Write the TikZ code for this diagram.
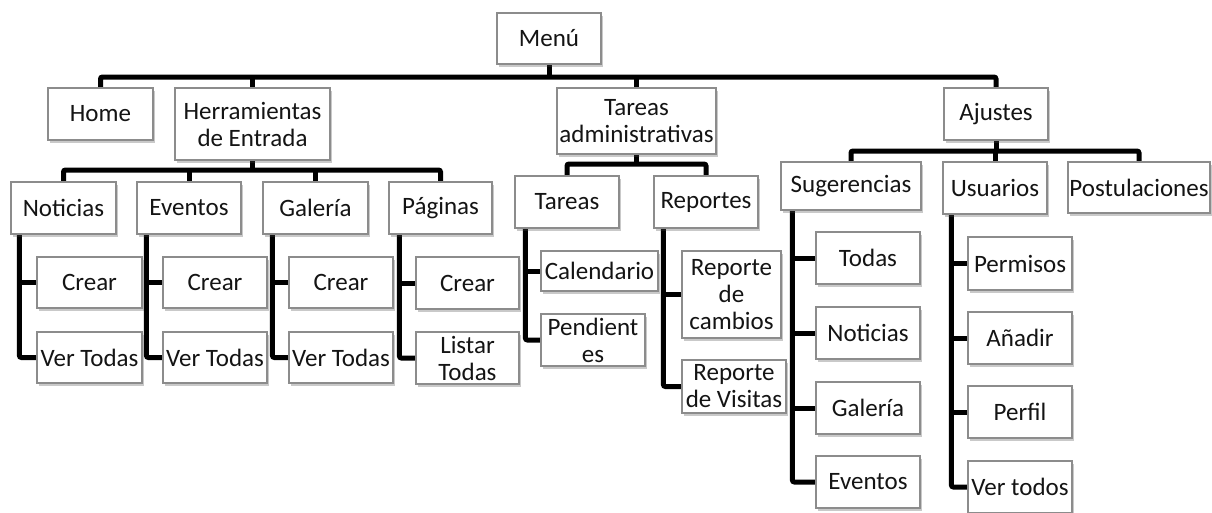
\documentclass[tikz,border=0pt]{standalone}
\usepackage{fontspec}
\setmainfont{Carlito}
\usetikzlibrary{shadows,calc,backgrounds}
\tikzset{
  box/.style={draw=black!45, line width=1.2pt, fill=white, rectangle, inner sep=0pt,
    align=center, text=black!92, font=\fontsize{25}{27}\selectfont,
    drop shadow={shadow xshift=1.5pt, shadow yshift=-2.5pt, opacity=0.3, fill=black!70}},
  conn/.style={line width=5pt, black, rounded corners=2pt, line cap=butt},
}
\newcommand{\bx}[6]{\node[box, minimum width=#4pt, minimum height=#5pt] (#1) at (#2,-#3) {#6};}
\begin{document}
\begin{tikzpicture}[x=1pt,y=1pt]
\useasboundingbox (0,0) rectangle (1212,-512);
\coordinate (b0) at (0,-77);
\coordinate (b1) at (0,-170);
\coordinate (b2) at (0,-164);
\coordinate (b3) at (0,-151);
% nodes
\bx{menu}{549}{38.5}{104}{51}{Menú}
\bx{home}{100.5}{114}{105}{52}{Home}
\bx{herr}{252.5}{124}{155}{72}{Herramientas\\de Entrada}
\bx{tadm}{636.5}{121}{159}{66}{Tareas\\administrativas}
\bx{ajus}{996}{114}{104}{52}{Ajustes}
\bx{noti}{63.5}{208}{105}{52}{Noticias}
\bx{even}{189}{208}{104}{52}{Eventos}
\bx{gale}{315.5}{208}{105}{52}{Galería}
\bx{pagi}{440.5}{208}{103}{52}{Páginas}
\bx{ncr}{89.5}{282.5}{105}{51}{Crear}
\bx{nvt}{89.5}{357.5}{105}{51}{Ver Todas}
\bx{ecr}{215}{282.5}{104}{51}{Crear}
\bx{evt}{215}{357.5}{104}{51}{Ver Todas}
\bx{gcr}{341}{282.5}{104}{51}{Crear}
\bx{gvt}{341}{357.5}{104}{51}{Ver Todas}
\bx{pcr}{467.5}{283}{103}{52}{Crear}
\bx{plt}{467.5}{358}{103}{52}{Listar\\Todas}
\bx{tare}{567}{202}{104}{52}{Tareas}
\bx{repo}{706}{202}{104}{52}{Reportes}
\bx{cale}{599.5}{271}{117}{40}{Calendario}
\bx{pend}{593}{340}{104}{52}{Pendient\\es}
\bx{rcam}{731.5}{294.5}{99}{87}{Reporte\\de\\cambios}
\bx{rvis}{734}{386.5}{104}{53}{Reporte\\de Visitas}
\bx{suge}{851}{186}{140}{48}{Sugerencias}
\bx{usua}{995}{188}{104}{52}{Usuarios}
\bx{post}{1139}{187.5}{142}{51}{Postulaciones}
\bx{stod}{868}{258}{104}{52}{Todas}
\bx{snot}{868}{333}{104}{52}{Noticias}
\bx{sgal}{868}{408}{104}{52}{Galería}
\bx{seve}{868}{482}{104}{52}{Eventos}
\bx{uper}{1020}{263.5}{104}{53}{Permisos}
\bx{uana}{1020}{338}{104}{52}{Añadir}
\bx{uprf}{1020}{412}{104}{52}{Perfil}
\bx{uvet}{1020}{487}{104}{52}{Ver todos}
\begin{scope}[on background layer]
% level 1
\draw[conn] (home.north) |- (b0 -| ajus.north) -- (ajus.north);
\draw[conn] (menu.south) -- (menu.south |- b0);
\draw[conn] (herr.north) -- (herr.north |- b0);
\draw[conn] (tadm.north) -- (tadm.north |- b0);
% herramientas
\draw[conn] (noti.north) |- (b1 -| pagi.north) -- (pagi.north);
\draw[conn] (herr.south) -- (herr.south |- b1);
\draw[conn] (even.north) -- (even.north |- b1);
\draw[conn] (gale.north) -- (gale.north |- b1);
% tareas administrativas
\draw[conn] (tare.north) |- (b2 -| repo.north) -- (repo.north);
\draw[conn] (tadm.south) -- (tadm.south |- b2);
% ajustes
\draw[conn] (suge.north) |- (b3 -| post.north) -- (post.north);
\draw[conn] (ajus.south) -- (ajus.south |- b3);
\draw[conn] (usua.north) -- (usua.north |- b3);
% children
\coordinate (nv) at ($(noti.south west)+(9,0)$);
\draw[conn] (nv) |- (nvt.west);
\draw[conn] (ncr.west) -- (ncr.west -| nv);
\coordinate (ev) at ($(even.south west)+(10,0)$);
\draw[conn] (ev) |- (evt.west);
\draw[conn] (ecr.west) -- (ecr.west -| ev);
\coordinate (gv) at ($(gale.south west)+(10,0)$);
\draw[conn] (gv) |- (gvt.west);
\draw[conn] (gcr.west) -- (gcr.west -| gv);
\coordinate (pv) at ($(pagi.south west)+(11,0)$);
\draw[conn] (pv) |- (plt.west);
\draw[conn] (pcr.west) -- (pcr.west -| pv);
\coordinate (tv) at ($(tare.south west)+(11,0)$);
\draw[conn] (tv) |- (pend.west);
\draw[conn] (cale.west) -- (cale.west -| tv);
\coordinate (rv) at ($(repo.south west)+(10,0)$);
\draw[conn] (rv) |- (rvis.west);
\draw[conn] (rcam.west) -- (rcam.west -| rv);
\coordinate (sv) at ($(suge.south west)+(12,0)$);
\draw[conn] (sv) |- (seve.west);
\draw[conn] (stod.west) -- (stod.west -| sv);
\draw[conn] (snot.west) -- (snot.west -| sv);
\draw[conn] (sgal.west) -- (sgal.west -| sv);
\coordinate (uv) at ($(usua.south west)+(9,0)$);
\draw[conn] (uv) |- (uvet.west);
\draw[conn] (uper.west) -- (uper.west -| uv);
\draw[conn] (uana.west) -- (uana.west -| uv);
\draw[conn] (uprf.west) -- (uprf.west -| uv);
\end{scope}
\end{tikzpicture}
\end{document}
